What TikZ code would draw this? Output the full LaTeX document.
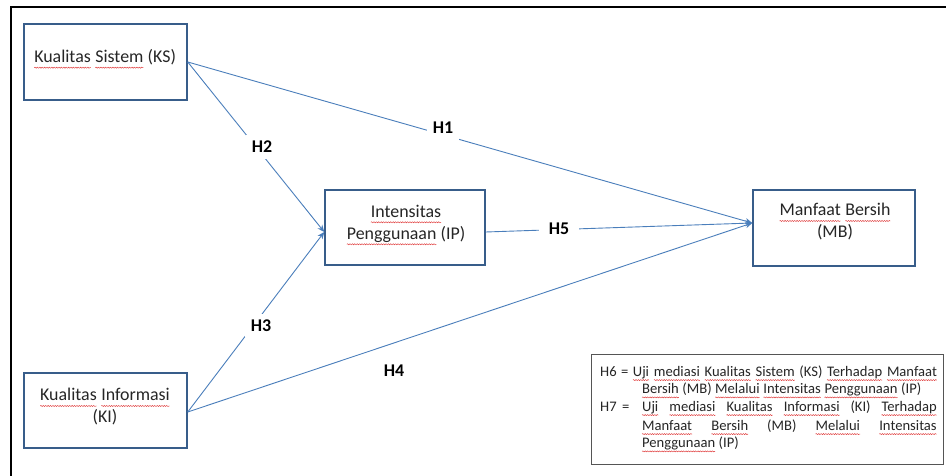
\documentclass[tikz,border=0pt]{standalone}
\usepackage{fontspec}
\setmainfont{Carlito}
\usetikzlibrary{arrows.meta,decorations.pathmorphing,calc}
\definecolor{boxc}{HTML}{385D8A}
\definecolor{linec}{HTML}{4A7EBB}
\definecolor{squigc}{HTML}{E03A3A}
\definecolor{legc}{HTML}{555555}
\newcommand\sq[1]{\tikz[baseline=(sqw.base)]{\node[inner sep=0pt,outer sep=0pt,draw=none,fill=none](sqw){#1};\draw[squigc,line width=0.45pt,decorate,decoration={snake,amplitude=0.55pt,segment length=2.4pt}] ([yshift=-0.28em]sqw.base west)--([yshift=-0.28em]sqw.base east);}}
\tikzset{
  box/.style={draw=boxc,line width=1.5pt,fill=white,inner sep=0pt},
  txt/.style={font=\fontsize{17.9pt}{22pt}\selectfont,align=center,inner sep=0pt,text=black!85},
  hlab/.style={font=\fontsize{17.9pt}{20pt}\selectfont\bfseries,fill=white,inner xsep=6pt,inner ysep=6pt,text=black},
  arr/.style={draw=linec,line width=0.9pt,-{Stealth[length=7pt,width=6pt]}},
  leg/.style={font=\fontsize{14.6pt}{18pt}\selectfont,inner sep=0pt,anchor=base west,text=black!85},
}
\begin{document}
\begin{tikzpicture}[x=1pt,y=-1pt]
\useasboundingbox (0,0) rectangle (946,476);
% outer frame (top and left visible)
\draw[black,line width=2pt] (10.5,476) -- (10.5,7) -- (946,7);
% boxes
\node[box,minimum width=163pt,minimum height=76pt] (ks) at (105.5,62) {};
\node[box,minimum width=160pt,minimum height=75pt] (ip) at (405,227.5) {};
\node[box,minimum width=162pt,minimum height=76pt] (mb) at (834,228) {};
\node[box,minimum width=163pt,minimum height=75pt] (ki) at (105.5,410.5) {};
\node[draw=legc,line width=1pt,fill=white,minimum width=352pt,minimum height=110pt] (lg) at (767,409) {};
% box texts
\node[txt] (kst) at (105,59) {\sq{Kualitas} \sq{Sistem} (KS)};
\node[txt] (ipt) at (406,225) {\sq{Intensitas}\\\sq{Penggunaan} (IP)};
\node[txt] (mbt) at (835,222) {\sq{Manfaat} \sq{Bersih}\\(MB)};
\node[txt] (kit) at (105,407) {\sq{Kualitas} \sq{Informasi}\\(KI)};
% connectors
\draw[arr] (ks.east) -- ($(mb.west)+(0,-5)$);
\draw[arr] (ks.east) -- ($(ip.west)+(0,4.5)$);
\draw[arr] ($(ki.east)+(0,1.5)$) -- ($(ip.west)+(0,4.5)$);
\draw[arr] ($(ki.east)+(0,1.5)$) -- ($(mb.west)+(0,-5)$);
\draw[arr] ($(ip.east)+(0,4.5)$) -- ($(mb.west)+(0,-5)$);
% hypothesis labels
\node[hlab] (h1) at (443,128) {H1};
\node[hlab] (h2) at (262,147) {H2};
\node[hlab] (h3) at (261,325.5) {H3};
\node[hlab] (h4) at (394,370.5) {H4};
\node[hlab,inner xsep=10pt] (h5) at (559,228.5) {H5};
% legend text
\node[leg] (l1) at (600,376) {\makebox[337pt][s]{H6 = \sq{Uji} \sq{mediasi} \sq{Kualitas} \sq{Sistem} (KS) \sq{Terhadap} \sq{Manfaat}}};
\node[leg] (l2) at (641.7,393.3) {\sq{Bersih} (MB) \sq{Melalui} \sq{Intensitas} \sq{Penggunaan} (IP)};
\node[leg] (l3a) at (600,411) {H7};
\node[leg] (l3b) at (622,411) {=};
\node[leg] (l3) at (641.7,411) {\makebox[295pt][s]{\sq{Uji} \sq{mediasi} \sq{Kualitas} \sq{Informasi} (KI) \sq{Terhadap}}};
\node[leg] (l4) at (641.7,430) {\makebox[295pt][s]{\sq{Manfaat} \sq{Bersih} (MB) \sq{Melalui} \sq{Intensitas}}};
\node[leg] (l5) at (641.7,447.3) {\sq{Penggunaan} (IP)};
\end{tikzpicture}
\end{document}
